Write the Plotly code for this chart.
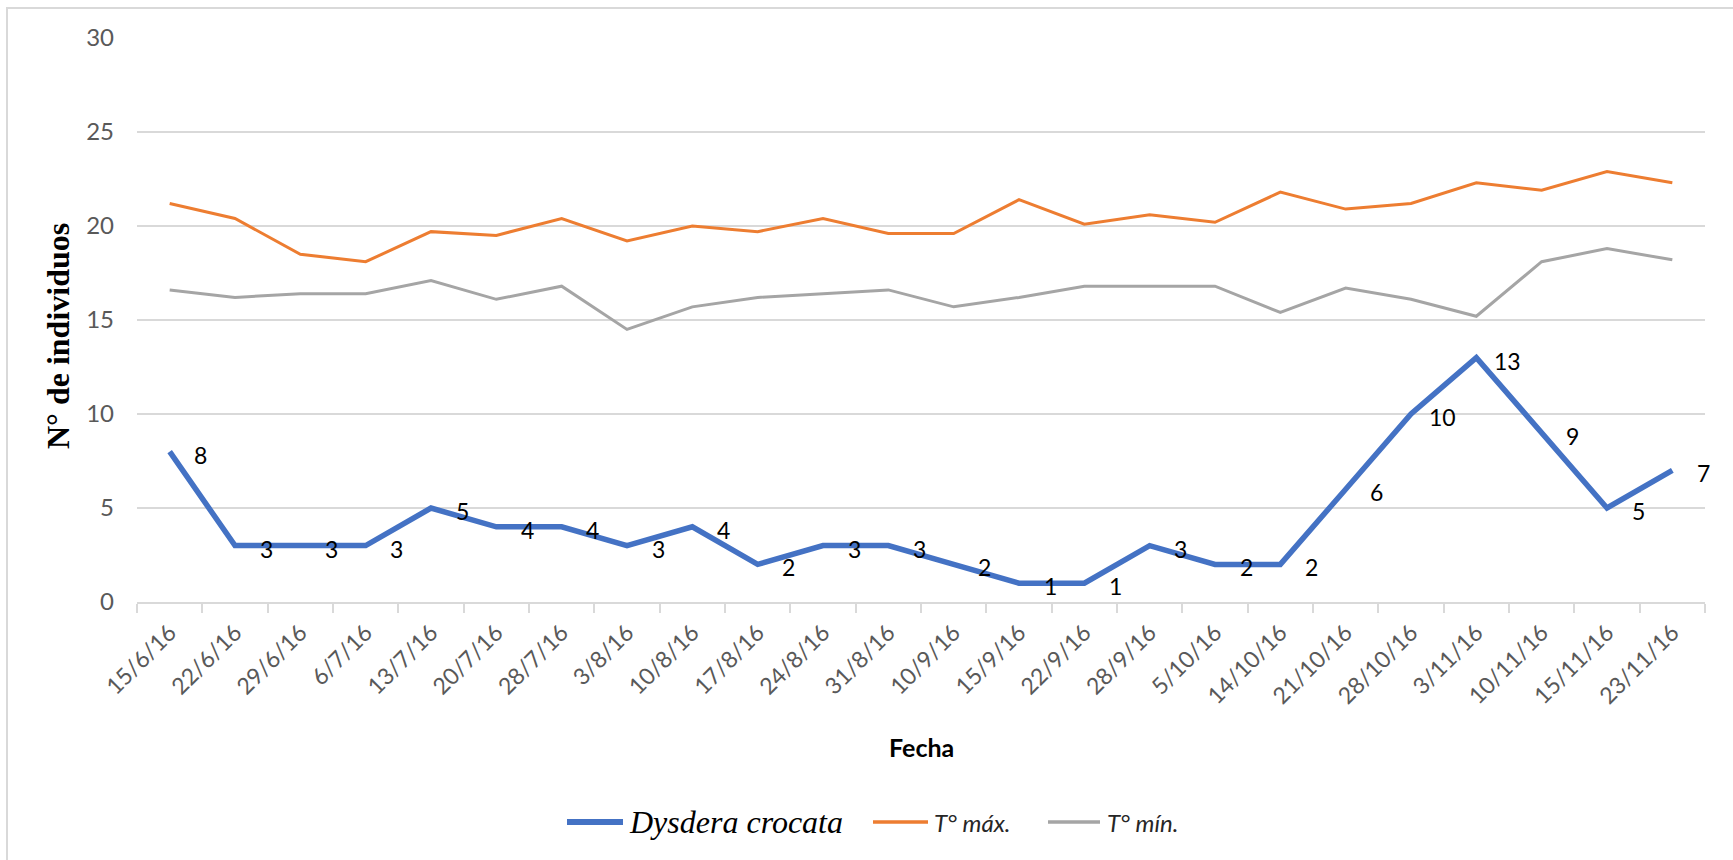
import plotly.graph_objects as go

# Sampling dates
fechas = ["15/6/16", "22/6/16", "29/6/16", "6/7/16", "13/7/16", "20/7/16", "28/7/16",
          "3/8/16", "10/8/16", "17/8/16", "24/8/16", "31/8/16", "10/9/16", "15/9/16",
          "22/9/16", "28/9/16", "5/10/16", "14/10/16", "21/10/16", "28/10/16",
          "3/11/16", "10/11/16", "15/11/16", "23/11/16"]

# Number of Dysdera crocata individuals per date
individuos = [8, 3, 3, 3, 5, 4, 4, 3, 4, 2, 3, 3, 2, 1, 1, 3, 2, 2, 6, 10, 13, 9, 5, 7]

# Maximum and minimum temperatures
t_max = [21.2, 20.4, 18.5, 18.1, 19.7, 19.5, 20.4, 19.2, 20.0, 19.7, 20.4, 19.6,
         19.6, 21.4, 20.1, 20.6, 20.2, 21.8, 20.9, 21.2, 22.3, 21.9, 22.9, 22.3]
t_min = [16.6, 16.2, 16.4, 16.4, 17.1, 16.1, 16.8, 14.5, 15.7, 16.2, 16.4, 16.6,
         15.7, 16.2, 16.8, 16.8, 16.8, 15.4, 16.7, 16.1, 15.2, 18.1, 18.8, 18.2]

y_ticks = [0, 5, 10, 15, 20, 25, 30]

W, H = 1733, 860
M_L, M_R, M_T, M_B = 137, 28, 38, 258
plot_w = W - M_L - M_R
plot_h = H - M_T - M_B


def px_to_paper_x(px):
    return (px - M_L) / plot_w


def px_to_paper_y(py):
    return (H - M_B - py) / plot_h


SANS = "Lato, 'Open Sans', sans-serif"
SERIF = "'Liberation Serif', 'Times New Roman', serif"

series = [
    dict(name="Dysdera crocata", y=individuos, color="#4472C4", width=5.5,
         font=dict(family=SERIF, size=32, color="#000000"), fmt="<i>{}</i>",
         key=(567, 623), text_x=627),
    dict(name="T° máx.", y=t_max, color="#ED7D31", width=3,
         font=dict(family=SANS, size=24, color="#262626"), fmt="<i>{}</i>",
         key=(873, 928), text_x=932),
    dict(name="T° mín.", y=t_min, color="#A5A5A5", width=3,
         font=dict(family=SANS, size=24, color="#262626"), fmt="<i>{}</i>",
         key=(1048, 1100), text_x=1105),
]

fig = go.Figure()
for s in series:
    fig.add_trace(go.Scatter(
        x=fechas, y=s["y"], mode="lines", name=s["name"],
        line=dict(color=s["color"], width=s["width"]),
        showlegend=False,
    ))

annotations = []
shapes = []

# Value labels to the right of each count
for f, v in zip(fechas, individuos):
    annotations.append(dict(
        x=f, y=v, xref="x", yref="y", text=str(v), showarrow=False,
        xanchor="center", yanchor="middle", xshift=31, yshift=-3,
        font=dict(family=SANS, size=23, color="#000000"),
    ))

# Legend row below the axis title
LEG_Y = 822
for s in series:
    x0, x1 = s["key"]
    shapes.append(dict(
        type="line", xref="paper", yref="paper",
        x0=px_to_paper_x(x0), x1=px_to_paper_x(x1),
        y0=px_to_paper_y(LEG_Y), y1=px_to_paper_y(LEG_Y),
        line=dict(color=s["color"], width=s["width"] + 0.5),
    ))
    annotations.append(dict(
        x=px_to_paper_x(s["text_x"]), y=px_to_paper_y(LEG_Y),
        xref="paper", yref="paper", text=s["fmt"].format(s["name"]),
        showarrow=False, xanchor="left", yanchor="middle", font=s["font"],
    ))

# Axis titles
annotations.append(dict(
    x=px_to_paper_x(921), y=px_to_paper_y(747), xref="paper", yref="paper",
    text="<b>Fecha</b>", showarrow=False, xanchor="center", yanchor="middle",
    font=dict(family=SANS, size=25, color="#000000"),
))
annotations.append(dict(
    x=px_to_paper_x(58), y=px_to_paper_y(336), xref="paper", yref="paper",
    text="<b>N° de individuos</b>", showarrow=False, textangle=-90,
    xanchor="center", yanchor="middle",
    font=dict(family=SERIF, size=32, color="#000000"),
))

# Chart-area border (left and top edges visible)
shapes.append(dict(
    type="rect", xref="paper", yref="paper",
    x0=px_to_paper_x(7), y0=px_to_paper_y(H + 40),
    x1=px_to_paper_x(W + 40), y1=px_to_paper_y(8),
    line=dict(color="#D9D9D9", width=2), fillcolor="rgba(0,0,0,0)", layer="below",
))

fig.update_layout(
    width=W, height=H,
    margin=dict(l=M_L, r=M_R, t=M_T, b=M_B),
    paper_bgcolor="white", plot_bgcolor="white",
    showlegend=False,
    annotations=annotations,
    shapes=shapes,
    xaxis=dict(
        type="category", range=[-0.5, len(fechas) - 0.5],
        showgrid=False, showline=True, linecolor="#D9D9D9", linewidth=2,
        ticks="outside", tickson="boundaries", ticklen=9, tickwidth=2, tickcolor="#D9D9D9",
        tickangle=-45, ticklabelstandoff=6,
        tickfont=dict(family=SANS, size=23, color="#595959"),
        zeroline=False,
    ),
    yaxis=dict(
        range=[0, 30], tickvals=y_ticks, showgrid=True, gridcolor="#D9D9D9", gridwidth=2,
        showline=False, zeroline=False, ticks="", ticklabelstandoff=22,
        tickfont=dict(family=SANS, size=24, color="#595959"),
    ),
)

fig.write_html("out.html")
